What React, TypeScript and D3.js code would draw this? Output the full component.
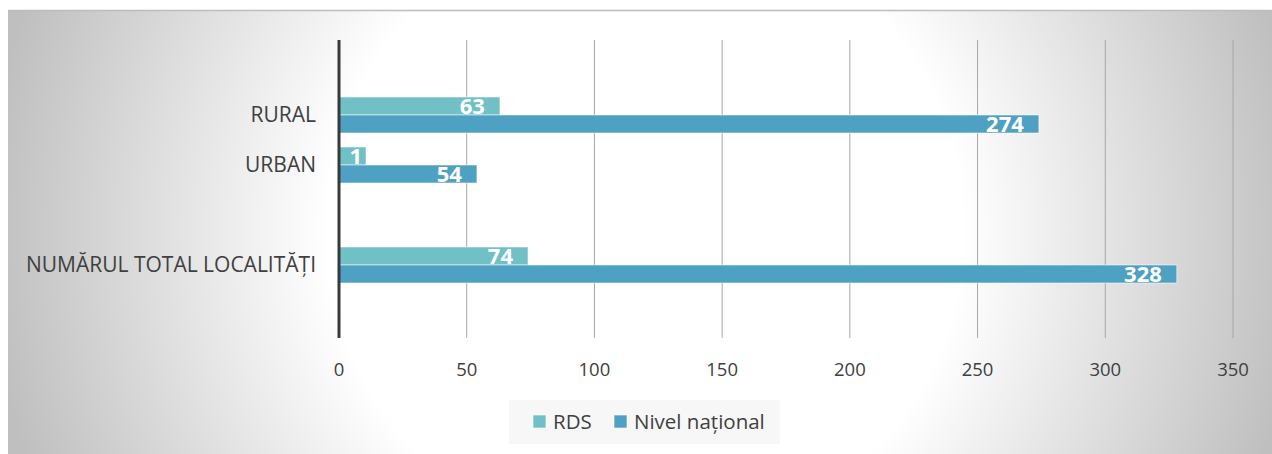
import React, { useEffect } from 'react'
import * as d3 from 'd3'

// categories top to bottom, blanks are the empty slots of the original sheet
const categories = ['_a', 'RURAL', 'URBAN', '_b', 'NUMĂRUL TOTAL LOCALITĂȚI', '_c']
const seriesNames = ['RDS', 'Nivel național']
const rdsValues: Record<string, number> = { 'RURAL': 63, 'URBAN': 1, 'NUMĂRUL TOTAL LOCALITĂȚI': 74 }
const nationalValues: Record<string, number> = { 'RURAL': 274, 'URBAN': 54, 'NUMĂRUL TOTAL LOCALITĂȚI': 328 }
const xTicks = [0, 50, 100, 150, 200, 250, 300, 350]

const colors = ['#71C0C6', '#4FA1C3']
const FONT = '"Open Sans", "Noto Sans", sans-serif'
const TEXT = '#404040'

const W = 1272
const H = 454

const App: React.FC = () => {
    useEffect(() => {
        document.body.style.margin = '0'
        document.body.style.overflow = 'hidden'
    }, [])

    const x = d3.scaleLinear().domain([0, 350]).range([339, 1233])
    const y = d3.scaleBand().domain(categories).range([40, 340]).paddingInner(0.28).paddingOuter(0.14)
    const inner = d3.scaleBand().domain(seriesNames).range([0, y.bandwidth()])

    const shown = categories.filter(c => !c.startsWith('_'))
    const seriesData = [rdsValues, nationalValues]
    const minLabelX = x(0) + 23

    return (
        <svg width={W} height={H} style={{ display: 'block' }}>
            <defs>
                <radialGradient id="bg" gradientUnits="userSpaceOnUse" cx={645} cy={230} r={660}>
                    <stop offset="0" stopColor="#ffffff" />
                    <stop offset="0.48" stopColor="#ffffff" />
                    <stop offset="1" stopColor="#bfbfbf" />
                </radialGradient>
            </defs>
            <rect x={8} y={10} width={W - 8} height={H - 10} fill="url(#bg)" />
            <line x1={8} x2={W} y1={10.5} y2={10.5} stroke="#bdbdbd" strokeWidth={1.5} />

            {/* grid */}
            {xTicks.slice(1).map(t => (
                <line key={t} x1={x(t)} x2={x(t)} y1={40} y2={338} stroke="#a6a6a6" strokeWidth={1} />
            ))}

            {/* bars */}
            {shown.map(c => seriesNames.map((s, i) => {
                const v = seriesData[i][c]
                const y0 = (y(c) ?? 0) + (inner(s) ?? 0)
                const lx = Math.max(x(v) - 15, minLabelX)
                const tooShort = x(v) - 15 < minLabelX
                return (
                    <g key={c + s}>
                        <rect x={x(0)} y={y0} width={x(v) - x(0)} height={inner.bandwidth()}
                            fill={colors[i]} stroke="rgba(255,255,255,0.55)" strokeWidth={1} />
                        {tooShort && (
                            // label box keeps a short bar's value readable
                            <rect x={x(0)} y={y0} width={lx + 4 - x(0)} height={inner.bandwidth()}
                                fill={colors[i]} stroke="rgba(255,255,255,0.55)" strokeWidth={1} />
                        )}
                        <text x={lx} y={y0 + inner.bandwidth() / 2 + 8}
                            textAnchor="end" fill="#fff" fontWeight={700} fontSize={22}
                            fontFamily={FONT}>{v}</text>
                    </g>
                )
            }))}

            {/* zero axis */}
            <line x1={x(0)} x2={x(0)} y1={40} y2={338} stroke="#3a3a3a" strokeWidth={3} />

            {/* category labels */}
            {shown.map(c => (
                <text key={c} x={316} y={(y(c) ?? 0) + y.bandwidth() / 2 + 7} textAnchor="end"
                    fill={TEXT} fontSize={21} fontFamily={FONT}>{c}</text>
            ))}

            {/* tick labels */}
            {xTicks.map(t => (
                <text key={t} x={x(t)} y={376} textAnchor="middle" fill={TEXT}
                    fontSize={18.5} fontFamily={FONT}>{t}</text>
            ))}

            {/* legend */}
            <rect x={509} y={400} width={271} height={44} fill="#f7f7f7" />
            {seriesNames.map((s, i) => {
                const lx = i === 0 ? 533 : 614
                return (
                    <g key={s}>
                        <rect x={lx} y={415} width={13} height={13} fill={colors[i]}
                            stroke="rgba(255,255,255,0.6)" strokeWidth={1} />
                        <text x={lx + 20} y={429} fill={TEXT} fontSize={20.5} fontFamily={FONT}>{s}</text>
                    </g>
                )
            })}
        </svg>
    )
}

export default App
